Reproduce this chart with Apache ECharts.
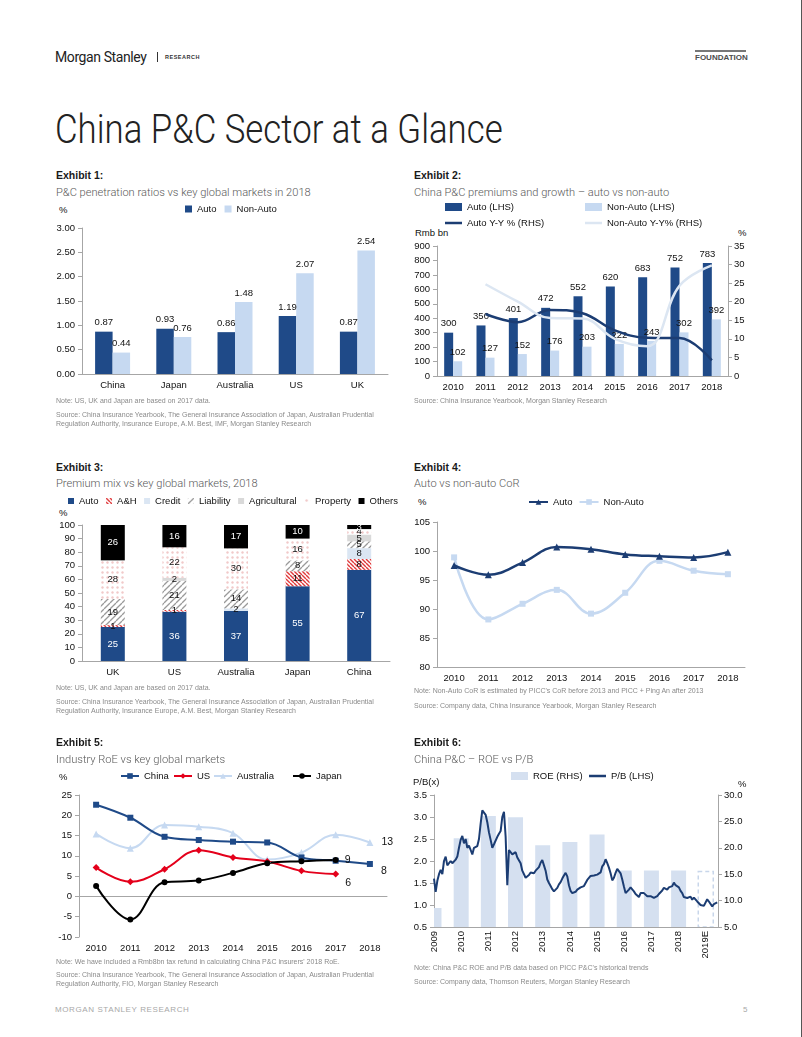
<!DOCTYPE html>
<html><head><meta charset="utf-8">
<script src="https://cdn.jsdelivr.net/npm/echarts@6/dist/echarts.min.js"></script>
<style>
html,body{margin:0;padding:0;background:#fff;}
#page{position:relative;width:802px;height:1037px;background:#fff;overflow:hidden;}
.t{position:absolute;white-space:nowrap;height:20px;line-height:20px !important;}
.ex{font:bold 10.5px 'Liberation Sans',Arial,sans-serif;color:#1a1a1a;}
.sub{font:300 11.1px Roboto,'Liberation Sans',sans-serif;color:#595959;}
.note{font:7px 'Liberation Sans',Arial,sans-serif;color:#8a8a8a;}
.ax{font:9.5px 'Liberation Sans',Arial,sans-serif;color:#111;}
#title{position:absolute;left:55px;top:106px;height:50px;line-height:50px;white-space:nowrap;
  font:300 40px Roboto,sans-serif;color:#222;transform:scaleX(0.87);transform-origin:0 0;}
</style>
</head><body><div id="page"><div id="title">China P&amp;C Sector at a Glance</div></div>
<script>
// ---------------- DATA ----------------
// Exhibit 1
const ex1Markets = ['China', 'Japan', 'Australia', 'US', 'UK'];
const ex1Auto = [0.87, 0.93, 0.86, 1.19, 0.87];
const ex1NonAuto = [0.44, 0.76, 1.48, 2.07, 2.54];
// Exhibit 2
const ex2Years = ['2010', '2011', '2012', '2013', '2014', '2015', '2016', '2017', '2018'];
const ex2AutoPrem = [300, 350, 401, 472, 552, 620, 683, 752, 783];
const ex2NonAutoPrem = [102, 127, 152, 176, 203, 222, 243, 302, 392];
const ex2AutoYoY = [null, 16.7, 14.5, 17.8, 16.9, 12.3, 10.3, 10.2, 4.2];
const ex2NonAutoYoY = [null, 24.7, 20.0, 15.6, 15.5, 10.0, 8.0, 24.3, 29.8];
// Exhibit 3
const ex3Markets = ['UK', 'US', 'Australia', 'Japan', 'China'];
const ex3Auto = [25, 36.3, 36.8, 55, 67];
const ex3AH = [1.4, 1.2, 0, 11, 8];
const ex3Credit = [0, 0, 1.9, 0, 8];
const ex3Liability = [19.2, 21.4, 14, 8, 5];
const ex3Agri = [0, 2.3, 0, 0, 5];
const ex3Property = [28.4, 22.4, 30.1, 16, 4];
const ex3Others = [26, 16.4, 17.2, 10, 3];
// Exhibit 4
const ex4Years = ['2010', '2011', '2012', '2013', '2014', '2015', '2016', '2017', '2018'];
const ex4Auto = [97.5, 95.9, 98.0, 100.7, 100.3, 99.4, 99.1, 98.9, 99.8];
const ex4NonAuto = [98.9, 88.2, 90.9, 93.3, 89.2, 92.8, 98.3, 96.6, 96.0];
// Exhibit 5
const ex5Years = ['2010', '2011', '2012', '2013', '2014', '2015', '2016', '2017', '2018'];
const ex5China = [22.6, 19.4, 14.7, 13.9, 13.5, 13.3, 9.6, 8.8, 8.0];
const ex5US = [7.1, 3.6, 6.7, 11.4, 9.6, 8.6, 6.3, 5.5, null];
const ex5Australia = [15.4, 11.9, 17.6, 17.2, 15.6, 9.1, 10.8, 15.2, 13.3];
const ex5Japan = [2.6, -5.7, 3.5, 3.9, 5.8, 8.2, 8.7, 9.0, null];
// Exhibit 6
const ex6RoeYears = [2009, 2010, 2011, 2012, 2013, 2014, 2015, 2016, 2017, 2018, 2019];
const ex6RoeLabels = ['2009', '2010', '2011', '2012', '2013', '2014', '2015', '2016', '2017', '2018', '2019E'];
const ex6Roe = [8.6, 21.8, 26.0, 25.8, 20.5, 21.1, 22.5, 15.7, 15.7, 15.7, 15.5];
const ex6PbStart = 2009.0;           // first P/B observation (year)
const ex6PbStep = 0.0613;            // sampling interval of the P/B readings (years, ~3 weeks)
const ex6Pb = [1.60,1.30,1.55,1.70,1.80,1.70,2.00,2.10,1.90,1.90,2.00,1.95,1.98,2.03,2.10,2.30,2.48,2.57,2.40,2.50,
 2.30,2.35,2.25,2.15,2.30,2.28,2.34,2.50,2.85,3.15,3.15,3.05,2.88,2.65,2.48,2.30,2.38,2.36,2.55,2.62,
 2.68,3.00,3.12,2.55,1.45,2.25,2.22,2.15,2.17,2.20,2.08,2.08,1.95,1.78,1.82,1.62,1.64,1.68,1.74,1.78,
 1.72,1.78,1.82,1.86,1.96,2.02,1.90,1.78,1.58,1.50,1.43,1.36,1.31,1.32,1.39,1.47,1.52,1.60,1.67,1.73,
 1.65,1.45,1.32,1.27,1.29,1.30,1.35,1.37,1.40,1.38,1.43,1.50,1.57,1.60,1.66,1.65,1.67,1.71,1.69,1.71,
 1.74,1.88,1.93,2.04,1.95,1.85,1.72,1.56,1.62,1.73,1.82,1.80,1.72,1.58,1.42,1.27,1.28,1.35,1.40,1.36,
 1.31,1.25,1.24,1.18,1.27,1.30,1.27,1.23,1.20,1.16,1.20,1.19,1.16,1.15,1.20,1.25,1.29,1.33,1.39,1.38,
 1.35,1.40,1.38,1.43,1.51,1.45,1.47,1.40,1.32,1.27,1.18,1.17,1.16,1.20,1.19,1.12,1.17,1.15,1.08,1.04,
 1.00,0.99,0.98,1.01,1.13,1.08,1.04,0.97,1.02,1.03,1.06];

// ---------------- STYLE ----------------
const F = "'Liberation Sans', Arial, Helvetica, sans-serif";
const TXT = '#111111';
const AX = '#a6a6a6';
const NAVY = '#1f4a88';
const LNAVY = '#1c3d73';
const LIGHT = '#c6d9f1';
const ROE = '#d5e0f0';
const FS = 9.5;
const page = document.getElementById('page');

function T(x, y, s, cls, extra) {
  const d = document.createElement('div');
  d.className = 't ' + cls;
  d.textContent = s;
  d.style.left = x + 'px';
  d.style.top = (y - 10) + 'px';
  if (extra) d.style.cssText += extra;
  page.appendChild(d);
  return d;
}
function chart(left, top, w, h, option) {
  const d = document.createElement('div');
  d.style.cssText = 'position:absolute;left:' + left + 'px;top:' + top + 'px;width:' + w + 'px;height:' + h + 'px';
  page.appendChild(d);
  const c = echarts.init(d, null, { renderer: 'canvas', width: w, height: h });
  option.animation = false;
  option.textStyle = { fontFamily: F, fontSize: FS, color: TXT };
  c.setOption(option);
  return c;
}
function lab(o) { return Object.assign({ color: TXT, fontSize: FS, fontFamily: F }, o || {}); }
function vAxis(o, labelO) {
  return Object.assign({
    type: 'value',
    axisLine: { show: true, lineStyle: { color: AX } },
    axisTick: { show: true, length: 4, lineStyle: { color: AX } },
    splitLine: { show: false },
    axisLabel: lab(Object.assign({ margin: 7 }, labelO))
  }, o);
}
function cAxis(data, o, labelO) {
  return Object.assign({
    type: 'category', data: data,
    axisLine: { lineStyle: { color: AX } },
    axisTick: { length: 4, lineStyle: { color: AX } },
    axisLabel: lab(Object.assign({ margin: 6 }, labelO))
  }, o);
}
function leg(left, top, names, o) {
  return Object.assign({
    left: left, top: top, data: names, padding: 0, itemGap: 10, selectedMode: false,
    textStyle: lab()
  }, o);
}
function pattern(w, h, draw) {
  const c = document.createElement('canvas');
  c.width = w; c.height = h;
  const g = c.getContext('2d');
  g.fillStyle = '#ffffff'; g.fillRect(0, 0, w, h);
  draw(g, w, h);
  return { image: c, repeat: 'repeat' };
}
const patAH = pattern(4, 4, (g, w) => {
  g.strokeStyle = '#e0383a'; g.lineWidth = 1.4;
  for (const k of [-w, 0, w]) { g.beginPath(); g.moveTo(k, 0); g.lineTo(k + w, w); g.stroke(); }
});
const patLiab = pattern(6, 6, (g, w) => {
  g.strokeStyle = '#9a9a9a'; g.lineWidth = 1.3;
  for (const k of [-w, 0, w]) { g.beginPath(); g.moveTo(k, w); g.lineTo(k + w, 0); g.stroke(); }
});
const patProp = pattern(5, 5, (g) => {
  g.fillStyle = '#f1c9c9';
  g.beginPath(); g.arc(2.5, 2.5, 1.2, 0, Math.PI * 2); g.fill();
});

// ---------------- HEADER / FOOTER ----------------
T(55, 57, 'Morgan Stanley', '', "font:14px Roboto,'Liberation Sans',sans-serif;color:#222;letter-spacing:-0.4px;");
page.insertAdjacentHTML('beforeend', '<div style="position:absolute;left:157px;top:52px;width:1px;height:10px;background:#333"></div>');
T(165, 57, 'RESEARCH', '', "font:bold 5.5px 'Liberation Sans',sans-serif;color:#333;letter-spacing:0.5px;");
page.insertAdjacentHTML('beforeend', '<div style="position:absolute;left:695px;top:50px;width:51px;height:2px;background:#777"></div>');
T(695, 58, 'FOUNDATION', '', "font:bold 8px 'Liberation Sans',sans-serif;color:#4d4d4d;");
page.insertAdjacentHTML('beforeend', '<div style="position:absolute;left:801px;top:0;width:1px;height:1037px;background:#555"></div>');
T(55, 1010, 'MORGAN STANLEY RESEARCH', '', "font:8px 'Liberation Sans',sans-serif;color:#a8a8a8;letter-spacing:0.6px;");
T(743, 1010, '5', '', "font:8px 'Liberation Sans',sans-serif;color:#a8a8a8;");

// ---------------- EXHIBIT 1 ----------------
T(56, 175, 'Exhibit 1:', 'ex');
T(56, 193, 'P&C penetration ratios vs key global markets in 2018', 'sub');
T(59, 210, '%', 'ax');
chart(50, 195, 350, 200, {
  legend: leg(135, 9, ['Auto', 'Non-Auto'], { icon: 'rect', itemWidth: 7, itemHeight: 7, itemGap: 8 }),
  grid: { left: 32, top: 33, width: 306, height: 146 },
  xAxis: cAxis(ex1Markets),
  yAxis: vAxis({ min: 0, max: 3, interval: 0.5 }, { formatter: v => v.toFixed(2) }),
  series: [
    { name: 'Auto', type: 'bar', data: ex1Auto, barWidth: 17.5, barGap: '0%', itemStyle: { color: NAVY },
      label: lab({ show: true, position: 'top', distance: 4, formatter: p => p.value.toFixed(2) }) },
    { name: 'Non-Auto', type: 'bar', data: ex1NonAuto, barWidth: 17.5, itemStyle: { color: LIGHT },
      label: lab({ show: true, position: 'top', distance: 4, formatter: p => p.value.toFixed(2) }) }
  ]
});
T(56, 401, 'Note: US, UK and Japan are based on 2017 data.', 'note');
T(56, 415, 'Source: China Insurance Yearbook, The General Insurance Association of Japan, Australian Prudential', 'note');
T(56, 424, 'Regulation Authority, Insurance Europe, A.M. Best, IMF, Morgan Stanley Research', 'note');

// ---------------- EXHIBIT 2 ----------------
T(414, 175, 'Exhibit 2:', 'ex');
T(414, 193, 'China P&C premiums and growth \u2013 auto vs non-auto', 'sub');
T(415, 233, 'Rmb bn', 'ax');
T(738, 233, '%', 'ax');
chart(405, 195, 345, 205, {
  legend: [
    leg(40, 7, ['Auto (LHS)'], { icon: 'rect', itemWidth: 17, itemHeight: 8 }),
    leg(180, 7, ['Non-Auto (LHS)'], { icon: 'rect', itemWidth: 17, itemHeight: 8 }),
    leg(40, 23, ['Auto Y-Y % (RHS)'], { icon: 'rect', itemWidth: 17, itemHeight: 2.5 }),
    leg(180, 23, ['Non-Auto Y-Y% (RHS)'], { icon: 'rect', itemWidth: 17, itemHeight: 2.5 })
  ],
  grid: { left: 32, top: 51, width: 291, height: 130 },
  xAxis: cAxis(ex2Years),
  yAxis: [
    vAxis({ min: 0, max: 900, interval: 100 }),
    vAxis({ min: 0, max: 35, interval: 5, position: 'right' }, { margin: 6 })
  ],
  series: [
    { name: 'Auto (LHS)', type: 'bar', data: ex2AutoPrem, barWidth: 9, barGap: '0%', itemStyle: { color: NAVY },
      label: lab({ show: true, position: 'top', distance: 4 }) },
    { name: 'Non-Auto (LHS)', type: 'bar', data: ex2NonAutoPrem, barWidth: 9, itemStyle: { color: LIGHT },
      label: lab({ show: true, position: 'top', distance: 4 }) },
    { name: 'Auto Y-Y % (RHS)', type: 'line', yAxisIndex: 1, data: ex2AutoYoY, smooth: 0.4, symbol: 'none',
      itemStyle: { color: LNAVY }, lineStyle: { color: LNAVY, width: 2.5 } },
    { name: 'Non-Auto Y-Y% (RHS)', type: 'line', yAxisIndex: 1, data: ex2NonAutoYoY, smooth: 0.4, symbol: 'none',
      itemStyle: { color: '#dce6f2' }, lineStyle: { color: '#dce6f2', width: 2.5 } }
  ]
});
T(414, 401, 'Source: China Insurance Yearbook, Morgan Stanley Research', 'note');

// ---------------- EXHIBIT 3 ----------------
T(56, 467, 'Exhibit 3:', 'ex');
T(56, 484, 'Premium mix vs key global markets, 2018', 'sub');
T(59, 513, '%', 'ax');
const ex3Label = (col) => lab({ show: true, position: 'inside', color: col, formatter: p => (p.value >= 0.5 ? Math.round(p.value) : '') });
function ex3Series(name, data, color, labCol) {
  return { name: name, type: 'bar', stack: 'mix', data: data, barWidth: 24, itemStyle: { color: color }, label: ex3Label(labCol) };
}
chart(50, 495, 350, 185, {
  legend: leg(18, 1, ['Auto', 'A&H', 'Credit', 'Liability', 'Agricultural', 'Property', 'Others'],
    { icon: 'rect', itemWidth: 6, itemHeight: 6, itemGap: 7.5 }),
  grid: { left: 32, top: 30, width: 308, height: 136 },
  xAxis: cAxis(ex3Markets),
  yAxis: vAxis({ min: 0, max: 100, interval: 10 }),
  series: [
    ex3Series('Auto', ex3Auto, NAVY, '#ffffff'),
    ex3Series('A&H', ex3AH, patAH, TXT),
    ex3Series('Credit', ex3Credit, '#dbe6f3', TXT),
    ex3Series('Liability', ex3Liability, patLiab, TXT),
    ex3Series('Agricultural', ex3Agri, '#d9d9d9', TXT),
    ex3Series('Property', ex3Property, patProp, TXT),
    ex3Series('Others', ex3Others, '#000000', '#ffffff')
  ]
});
T(56, 688, 'Note: US, UK and Japan are based on 2017 data.', 'note');
T(56, 702, 'Source: China Insurance Yearbook, The General Insurance Association of Japan, Australian Prudential', 'note');
T(56, 711, 'Regulation Authority, Insurance Europe, A.M. Best, Morgan Stanley Research', 'note');

// ---------------- EXHIBIT 4 ----------------
T(414, 467, 'Exhibit 4:', 'ex');
T(414, 484, 'Auto vs non-auto CoR', 'sub');
T(418, 502, '%', 'ax');
chart(405, 490, 345, 195, {
  legend: leg(123, 7, ['Auto', 'Non-Auto'], { itemWidth: 19, itemHeight: 7, itemGap: 6 }),
  grid: { left: 32, top: 32, width: 308, height: 145 },
  xAxis: cAxis(ex4Years),
  yAxis: vAxis({ min: 80, max: 105, interval: 5 }),
  series: [
    { name: 'Non-Auto', type: 'line', data: ex4NonAuto, smooth: 0.4, symbol: 'rect', symbolSize: 6,
      itemStyle: { color: LIGHT }, lineStyle: { color: LIGHT, width: 2.5 } },
    { name: 'Auto', type: 'line', data: ex4Auto, smooth: 0.4, symbol: 'triangle', symbolSize: 7,
      itemStyle: { color: LNAVY }, lineStyle: { color: LNAVY, width: 2.5 } }
  ]
});
T(414, 691, "Note: Non-Auto CoR is estimated by PICC's CoR before 2013 and PICC + Ping An after 2013", 'note');
T(414, 706, 'Source: Company data, China Insurance Yearbook, Morgan Stanley Research', 'note');

// ---------------- EXHIBIT 5 ----------------
T(56, 742, 'Exhibit 5:', 'ex');
T(56, 760, 'Industry RoE vs key global markets', 'sub');
T(59, 777, '%', 'ax');
function endLabel(arr, o) {
  let last = -1;
  arr.forEach((v, i) => { if (v !== null) last = i; });
  return arr.map((v, i) => i === last ? { value: v, label: lab(Object.assign({ show: true, fontSize: 10.5, formatter: p => Math.round(p.value) }, o)) } : v);
}
chart(50, 765, 350, 195, {
  legend: [
    leg(70, 6, ['China'], { itemWidth: 18, itemHeight: 7 }),
    leg(123, 6, ['US'], { itemWidth: 18, itemHeight: 7 }),
    leg(163, 6, ['Australia'], { itemWidth: 18, itemHeight: 7 }),
    leg(242, 6, ['Japan'], { itemWidth: 18, itemHeight: 7 })
  ],
  grid: { left: 29, top: 30, width: 308, height: 142 },
  xAxis: [
    cAxis(ex5Years, { axisLine: { show: false, onZero: false }, axisTick: { show: false } }, { margin: 6 }),
    cAxis(ex5Years, { position: 'bottom', axisLine: { onZero: true, lineStyle: { color: AX } }, axisLabel: { show: false } })
  ],
  yAxis: vAxis({ min: -10, max: 25, interval: 5 }),
  series: [
    { name: 'Australia', type: 'line', data: endLabel(ex5Australia, { position: 'right', distance: 8 }), smooth: 0.4,
      symbol: 'triangle', symbolSize: 7, itemStyle: { color: LIGHT }, lineStyle: { color: LIGHT, width: 2 } },
    { name: 'US', type: 'line', data: endLabel(ex5US, { position: 'right', distance: 6, offset: [0, 9] }), smooth: 0.4,
      symbol: 'diamond', symbolSize: 7, itemStyle: { color: '#e4001b' }, lineStyle: { color: '#e4001b', width: 2 } },
    { name: 'China', type: 'line', data: endLabel(ex5China, { position: 'right', distance: 8, offset: [0, 7] }), smooth: 0.4,
      symbol: 'rect', symbolSize: 6, itemStyle: { color: NAVY }, lineStyle: { color: NAVY, width: 2 } },
    { name: 'Japan', type: 'line', data: endLabel(ex5Japan, { position: 'right', distance: 6 }), smooth: 0.4,
      symbol: 'circle', symbolSize: 6, itemStyle: { color: '#000' }, lineStyle: { color: '#000', width: 2 } }
  ]
});
T(56, 962, "Note: We have included a Rmb8bn tax refund in calculating China P&C insurers' 2018 RoE.", 'note');
T(56, 975, 'Source: China Insurance Yearbook, The General Insurance Association of Japan, Australian Prudential', 'note');
T(56, 984, 'Regulation Authority, FIO, Morgan Stanley Research', 'note');

// ---------------- EXHIBIT 6 ----------------
T(414, 742, 'Exhibit 6:', 'ex');
T(414, 760, 'China P&C \u2013 ROE vs P/B', 'sub');
T(413, 782, 'P/B(x)', 'ax');
T(738, 784, '%', 'ax');
const roeData = ex6RoeYears.map((y, i) => [y, ex6Roe[i]]);
const pbData = ex6Pb.map((v, i) => [ex6PbStart + i * ex6PbStep, v]);
function roeBar(params, api) {
  const cs = params.coordSys;
  const top = api.coord([api.value(0), api.value(1)]);
  const half = 7.5;
  const x0 = Math.max(cs.x, top[0] - half);
  const x1 = Math.min(cs.x + cs.width, top[0] + half);
  const bottom = cs.y + cs.height;
  const est = ex6RoeLabels[params.dataIndex].endsWith('E');
  return {
    type: 'rect',
    shape: { x: x0, y: top[1], width: x1 - x0, height: bottom - top[1] },
    style: est ? { fill: 'rgba(255,255,255,0)', stroke: '#c8d6ea', lineWidth: 1.5, lineDash: [4, 3] } : { fill: ROE }
  };
}
chart(405, 765, 345, 200, {
  legend: [
    leg(106, 6, ['ROE (RHS)'], { icon: 'rect', itemWidth: 17, itemHeight: 8 }),
    leg(184, 6, ['P/B (LHS)'], { icon: 'rect', itemWidth: 17, itemHeight: 2.5 })
  ],
  grid: { left: 29, top: 30, width: 284, height: 132 },
  xAxis: vAxis({ min: 2009, max: 2019.45, interval: 1, axisTick: { show: false } },
    { rotate: 90, margin: 4, showMaxLabel: false, formatter: v => { const i = ex6RoeYears.indexOf(v); return i >= 0 ? ex6RoeLabels[i] : ''; } }),
  yAxis: [
    vAxis({ min: 0.5, max: 3.5, interval: 0.5 }, { formatter: v => v.toFixed(1) }),
    vAxis({ min: 5, max: 30, interval: 5, position: 'right' }, { margin: 6, formatter: v => v.toFixed(1) })
  ],
  series: [
    { name: 'ROE (RHS)', type: 'custom', yAxisIndex: 1, data: roeData, encode: { x: 0, y: 1 }, clip: true,
      itemStyle: { color: ROE }, renderItem: roeBar },
    { name: 'P/B (LHS)', type: 'line', yAxisIndex: 0, data: pbData, symbol: 'none',
      itemStyle: { color: LNAVY }, lineStyle: { color: LNAVY, width: 2 } }
  ]
});
T(414, 968, "Note: China P&C ROE and P/B data based on PICC P&C's historical trends", 'note');
T(414, 982, 'Source: Company data, Thomson Reuters, Morgan Stanley Research', 'note');
</script>
</body></html>
